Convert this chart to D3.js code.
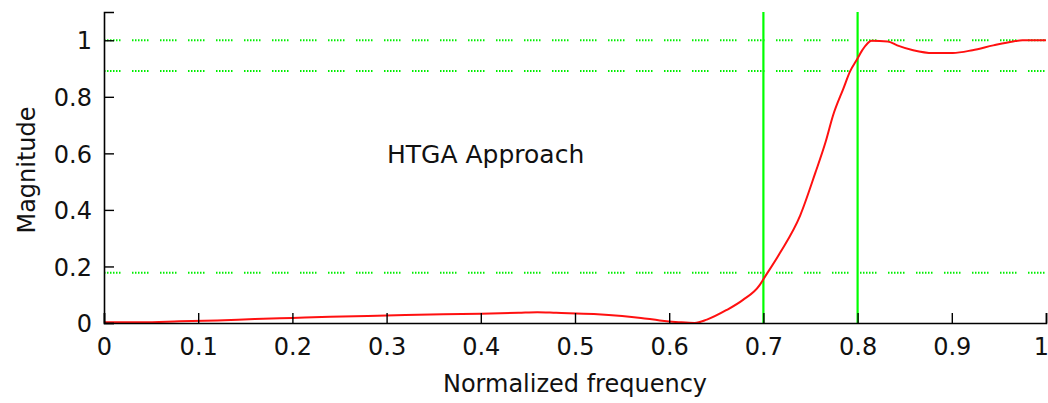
<!DOCTYPE html>
<html>
<head>
<meta charset="utf-8"/>
<title>HTGA Approach</title>
<script src="https://d3js.org/d3.v7.min.js" charset="utf-8"></script>
<style>
	body { margin: 0; background: #fff; }
	text { font-family: "DejaVu Sans", sans-serif; fill: #111; }
</style>
</head>
<body>
<svg width="1048" height="403"></svg>
<script>
	// magnitude response
	var freq = [0, 0.04, 0.08, 0.12, 0.16, 0.2, 0.24, 0.28, 0.32, 0.36, 0.4, 0.44, 0.46, 0.48,
		0.52, 0.55, 0.57, 0.59, 0.61, 0.627, 0.64, 0.661, 0.678, 0.696, 0.7, 0.718, 0.739,
		0.755, 0.766, 0.774, 0.785, 0.792, 0.799, 0.805, 0.815, 0.832, 0.842, 0.859, 0.88,
		0.901, 0.922, 0.944, 0.965, 0.975, 1];
	var mag = [0.003, 0.003, 0.006, 0.009, 0.014, 0.018, 0.022, 0.025, 0.028, 0.031, 0.033, 0.036, 0.038, 0.036,
		0.032, 0.025, 0.018, 0.009, 0.003, 0.0, 0.012, 0.046, 0.081, 0.134, 0.155, 0.25, 0.38,
		0.53, 0.64, 0.735, 0.83, 0.89, 0.93, 0.965, 0.998, 0.996, 0.982, 0.965, 0.955,
		0.955, 0.965, 0.982, 0.996, 1.0, 1.0];
	var xTicks = [0, 0.1, 0.2, 0.3, 0.4, 0.5, 0.6, 0.7, 0.8, 0.9, 1];
	var yTicks = [0, 0.2, 0.4, 0.6, 0.8, 1];
	var bandEdges = [0.7, 0.8];          // passband / stopband edges
	var specLevels = [1, 0.891, 0.178];  // ripple and attenuation limits

	var margin = {top: 12, right: 2, bottom: 80, left: 104},
		width = 1048 - margin.left - margin.right,
		height = 403 - margin.top - margin.bottom;

	var svg = d3.select("svg");
	var g = svg.append("g")
		.attr("transform", "translate(" + margin.left + "," + margin.top + ")");

	var x = d3.scaleLinear().domain([0, 1]).range([0, width]),
		y = d3.scaleLinear().domain([0, 1.1]).range([height, 0]);

	// dotted spec lines
	g.selectAll(".spec")
		.data(specLevels)
		.enter().append("line")
		.attr("class", "spec")
		.attr("x1", 0).attr("x2", width)
		.attr("y1", function(d) { return y(d); })
		.attr("y2", function(d) { return y(d); })
		.attr("stroke", "#00ee00")
		.attr("stroke-width", 2)
		.attr("stroke-dasharray", "1.5,1.5,1.5,1.5,1.5,1.5,1.5,1.5,1.5,1.5,1.5,11.5");

	// band edges
	g.selectAll(".edge")
		.data(bandEdges)
		.enter().append("line")
		.attr("class", "edge")
		.attr("x1", function(d) { return x(d); })
		.attr("x2", function(d) { return x(d); })
		.attr("y1", 0).attr("y2", height)
		.attr("stroke", "#00ff00")
		.attr("stroke-width", 2.2);

	var data = freq.map(function(f, i) { return {f: f, m: mag[i]}; });
	var line = d3.line()
		.x(function(d) { return x(d.f); })
		.y(function(d) { return y(d.m); })
		.curve(d3.curveMonotoneX);

	g.append("path")
		.datum(data)
		.attr("fill", "none")
		.attr("stroke", "#ff1010")
		.attr("stroke-width", 2)
		.attr("d", line);

	// axes, matlab style ticks pointing inward
	var xAxis = g.append("g")
		.attr("transform", "translate(0," + height + ")")
		.call(d3.axisBottom(x).tickValues(xTicks).tickSize(-10).tickPadding(15)
			.tickFormat(function(d) { return d3.format("~g")(d); }));
	var yAxis = g.append("g")
		.call(d3.axisLeft(y).tickValues(yTicks).tickSize(-10).tickPadding(12)
			.tickFormat(function(d) { return d3.format("~g")(d); }));

	[xAxis, yAxis].forEach(function(a) {
		a.select(".domain").attr("stroke", "#000").attr("stroke-width", 1.6);
		a.selectAll(".tick line").attr("stroke", "#000").attr("stroke-width", 1.4);
		a.selectAll(".tick text").attr("font-size", 24).attr("font-family", "DejaVu Sans").attr("fill", "#111");
	});
	xAxis.selectAll(".tick text").attr("dy", "0.71em");
	yAxis.selectAll(".tick text").attr("dy", "0.36em");
	// last label sits on the window edge, nudge it in
	xAxis.selectAll(".tick text").filter(function(d) { return d === 1; }).attr("dx", -5);

	g.append("text")
		.attr("x", x(0.5))
		.attr("y", height + 69)
		.attr("text-anchor", "middle")
		.attr("font-size", 24)
		.text("Normalized frequency");

	g.append("text")
		.attr("transform", "translate(" + (35 - margin.left) + "," + (170 - margin.top) + ") rotate(-90)")
		.attr("text-anchor", "middle")
		.attr("font-size", 24)
		.text("Magnitude");

	g.append("text")
		.attr("x", 387 - margin.left)
		.attr("y", 163 - margin.top)
		.attr("font-size", 25)
		.text("HTGA Approach");
</script>
</body>
</html>
